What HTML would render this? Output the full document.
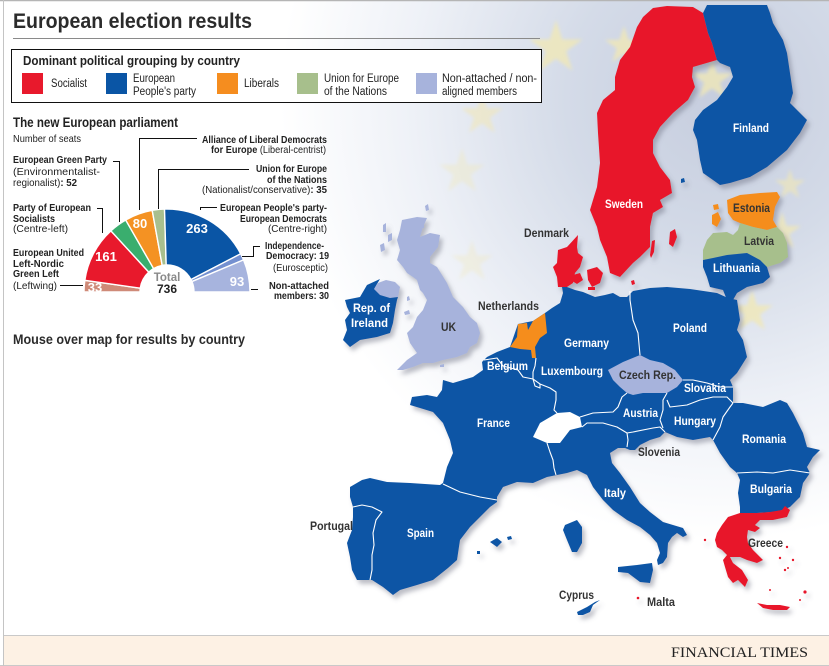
<!DOCTYPE html>
<html><head><meta charset="utf-8"><style>
html,body{margin:0;padding:0;background:#fff;}
svg{display:block;}
text{font-family:"Liberation Sans",sans-serif;}
.b{font-weight:bold;}
.w{fill:#fff;font-weight:bold;font-size:12px;}
.d{fill:#333;font-weight:bold;font-size:12px;}
.a{font-size:10.5px;fill:#222;}
.lg{font-size:11.5px;fill:#222;}
</style></head><body>
<svg width="829" height="666" viewBox="0 0 829 666" xmlns="http://www.w3.org/2000/svg">
<defs>
<radialGradient id="bg" gradientUnits="userSpaceOnUse" cx="720" cy="100" r="440">
<stop offset="0" stop-color="#c6cdde"/>
<stop offset="0.35" stop-color="#d4dbe8"/>
<stop offset="0.7" stop-color="#eef1f7"/>
<stop offset="1" stop-color="#ffffff"/>
</radialGradient>
<filter id="sh" x="-10%" y="-10%" width="130%" height="130%">
<feDropShadow dx="3" dy="4" stdDeviation="2.5" flood-color="#6a7080" flood-opacity="0.45"/>
</filter>
<filter id="bl"><feGaussianBlur stdDeviation="1.5"/></filter>
</defs>
<rect x="0" y="0" width="829" height="666" fill="#fff"/>
<rect x="0" y="0" width="829" height="666" fill="url(#bg)"/>
<!-- stars -->
<g fill="#f2e8b4" filter="url(#bl)">
<path opacity="0.75" transform="translate(556,48) scale(28)" d="M0,-1 L0.2245,-0.309 L0.951,-0.309 L0.363,0.118 L0.588,0.809 L0,0.382 L-0.588,0.809 L-0.363,0.118 L-0.951,-0.309 L-0.2245,-0.309Z"/>
<path opacity="0.75" transform="translate(624,46) scale(20)" d="M0,-1 L0.2245,-0.309 L0.951,-0.309 L0.363,0.118 L0.588,0.809 L0,0.382 L-0.588,0.809 L-0.363,0.118 L-0.951,-0.309 L-0.2245,-0.309Z"/>
<path opacity="0.75" transform="translate(712,80) scale(22)" d="M0,-1 L0.2245,-0.309 L0.951,-0.309 L0.363,0.118 L0.588,0.809 L0,0.382 L-0.588,0.809 L-0.363,0.118 L-0.951,-0.309 L-0.2245,-0.309Z"/>
<path opacity="0.55" transform="translate(482,115) scale(22)" d="M0,-1 L0.2245,-0.309 L0.951,-0.309 L0.363,0.118 L0.588,0.809 L0,0.382 L-0.588,0.809 L-0.363,0.118 L-0.951,-0.309 L-0.2245,-0.309Z"/>
<path opacity="0.35" transform="translate(462,172) scale(24)" d="M0,-1 L0.2245,-0.309 L0.951,-0.309 L0.363,0.118 L0.588,0.809 L0,0.382 L-0.588,0.809 L-0.363,0.118 L-0.951,-0.309 L-0.2245,-0.309Z"/>
<path opacity="0.3" transform="translate(472,262) scale(22)" d="M0,-1 L0.2245,-0.309 L0.951,-0.309 L0.363,0.118 L0.588,0.809 L0,0.382 L-0.588,0.809 L-0.363,0.118 L-0.951,-0.309 L-0.2245,-0.309Z"/>
<path opacity="0.75" transform="translate(752,312) scale(22)" d="M0,-1 L0.2245,-0.309 L0.951,-0.309 L0.363,0.118 L0.588,0.809 L0,0.382 L-0.588,0.809 L-0.363,0.118 L-0.951,-0.309 L-0.2245,-0.309Z"/>
<path opacity="0.7" transform="translate(782,232) scale(20)" d="M0,-1 L0.2245,-0.309 L0.951,-0.309 L0.363,0.118 L0.588,0.809 L0,0.382 L-0.588,0.809 L-0.363,0.118 L-0.951,-0.309 L-0.2245,-0.309Z"/>
<path opacity="0.6" transform="translate(790,185) scale(16)" d="M0,-1 L0.2245,-0.309 L0.951,-0.309 L0.363,0.118 L0.588,0.809 L0,0.382 L-0.588,0.809 L-0.363,0.118 L-0.951,-0.309 L-0.2245,-0.309Z"/>
</g>

<!-- title -->
<text x="13" y="28" class="b" font-size="21" fill="#2b2b2b" textLength="239" lengthAdjust="spacingAndGlyphs">European election results</text>
<line x1="13" y1="38.5" x2="540" y2="38.5" stroke="#8a8a8a" stroke-width="1"/>

<!-- MAP -->
<g filter="url(#sh)">
<!-- continental blue mass -->
<polygon fill="#0a55a5" points="510,347 518,324 533,321 545,313 552,308 560,303 563,293 562,287 567,287 575,290 583,292 595,297 605,295 613,293 620,297 627,297 633,291 650,288 667,287 690,289 717,293 728,298 737,300 740,320 737,330 743,340 747,357 737,373 730,380 733,387 733,403 743,403 763,407 780,400 787,403 793,413 803,433 807,447 820,450 813,457 807,467 810,473 803,483 800,497 790,507 783,510 773,512 757,513 740,513 740,507 738,493 740,480 737,473 730,467 720,453 713,440 710,437 693,440 677,437 665,432 660,437 650,440 640,445 635,450 630,450 625,448 618,448 610,453 612,463 620,473 630,487 640,503 650,512 663,522 673,525 683,528 687,535 683,537 677,533 672,537 668,543 667,557 663,563 658,565 657,560 660,553 657,543 650,535 640,527 627,520 613,510 603,500 593,487 587,475 577,470 567,473 557,475 547,477 533,483 517,482 503,487 497,497 497,502 490,507 480,517 470,527 460,540 457,560 448,568 433,580 417,585 400,590 393,595 383,587 372,580 357,580 352,570 350,557 347,543 352,530 353,517 353,507 350,497 350,487 362,480 370,478 387,482 410,483 440,485 443,483 447,467 453,453 450,440 443,423 433,412 420,408 410,405 412,397 427,395 437,397 442,390 443,380 453,383 463,380 473,377 483,370 482,362 487,357 497,352"/>
<!-- Netherlands -->
<polygon fill="#f58d1f" points="510,347 517,337 518,324 527,323 528,330 533,321 545,313 547,333 540,338 535,347 536,358 532,358 531,350 520,349"/>
<!-- Czech -->
<polygon fill="#a7b3dc" points="608,370 623,362 640,355 650,360 663,363 675,370 683,380 677,387 667,393 657,393 643,393 633,395 627,393 620,387 613,380"/>
<!-- Sardinia, Sicily, Balearics, Cyprus -->
<polygon fill="#0a55a5" points="565,525 577,520 582,527 582,543 577,552 572,552 567,540 563,530"/>
<polygon fill="#0a55a5" points="618,567 637,565 652,563 653,570 650,583 640,582 628,573 618,572"/>
<polygon fill="#0a55a5" points="490,542 497,538 502,542 497,547"/>
<polygon fill="#0a55a5" points="507,537 511,536 512,539 508,540"/>
<polygon fill="#0a55a5" points="477,551 480,551 480,554 477,554"/>
<polygon fill="#0a55a5" points="577,612 587,607 595,602 600,600 593,605 590,612 583,615 578,615"/>
<!-- Greece -->
<polygon fill="#e8192c" points="715,540 717,533 722,525 728,517 740,513 757,513 770,512 782,510 785,506 790,510 787,517 773,520 760,520 755,525 760,528 755,532 748,530 747,537 748,543 753,550 763,560 757,563 747,560 740,557 730,557 733,563 742,570 748,580 745,587 738,580 733,583 728,577 725,567 723,560 727,555 722,550 717,547"/>
<polygon fill="#e8192c" points="757,603 767,605 780,605 790,607 787,610 773,610 763,608"/>
<g fill="#e8192c">
<circle cx="705" cy="540" r="1.2"/><circle cx="787" cy="547" r="1.2"/><circle cx="793" cy="560" r="1.2"/><circle cx="785" cy="570" r="1.2"/><circle cx="780" cy="558" r="1.2"/><circle cx="788" cy="568" r="1"/><circle cx="805" cy="592" r="1.6"/><circle cx="800" cy="600" r="1"/><circle cx="638" cy="598" r="1.3"/><circle cx="770" cy="590" r="1"/>
</g>
<!-- Switzerland (white hole) -->
<polygon fill="#ffffff" points="533,437 540,423 557,413 570,412 580,417 582,427 570,430 560,443 547,443"/>
<!-- UK -->
<polygon fill="#a7b3dc" points="402,220 417,217 427,218 423,227 420,237 430,233 440,235 438,247 430,257 430,263 437,267 447,283 453,297 463,307 470,317 477,323 480,333 477,343 470,347 467,353 457,357 443,360 433,363 423,363 413,367 403,370 397,370 407,360 417,353 410,343 407,333 413,327 417,317 423,310 427,300 423,293 420,290 417,280 413,277 407,273 403,267 397,260 400,250 397,240 400,230"/>
<polygon fill="#a7b3dc" points="378,283 386,280 395,282 400,287 398,297 390,298 380,295 374,289"/>
<g fill="#a7b3dc">
<polygon points="383,225 386,223 386,232 383,232"/><polygon points="388,235 392,233 392,240 388,242"/><polygon points="380,245 384,243 385,250 381,252"/><polygon points="425,206 428,204 429,210 426,211"/><polygon points="420,224 424,223 424,228 420,228"/><polygon points="407,297 409,296 410,300 407,301"/><polygon points="404,312 409,310 410,314 405,315"/><polygon points="440,365 444,364 444,367 440,367"/>
</g>
<!-- Ireland -->
<polygon fill="#0a55a5" points="345,300 360,297 367,285 380,279 374,289 380,295 390,298 398,297 397,300 395,310 393,323 390,333 377,337 360,340 350,347 343,340 347,330 345,320 350,313 347,307"/>
<!-- Denmark -->
<g fill="#e8192c">
<polygon points="578,235 567,247 558,250 557,263 553,267 557,277 558,287 567,287 573,283 575,273 580,267 583,257 578,253 577,247"/>
<polygon points="573,275 580,273 583,280 577,284 572,281"/>
<polygon points="587,270 597,267 603,273 600,283 592,287 588,280"/>
<polygon points="588,287 595,287 595,290 588,290"/>
<polygon points="631,281 634,280 635,284 632,285"/>
</g>
<!-- Sweden -->
<polygon fill="#e8192c" points="653,8 667,6 693,7 703,13 708,33 712,43 717,60 693,67 692,77 695,87 688,100 673,113 660,127 653,140 653,153 660,167 670,180 672,193 660,200 663,207 653,213 650,227 650,247 640,257 633,263 620,277 610,273 607,257 600,240 597,227 590,210 593,200 597,187 600,163 598,133 597,113 603,100 615,90 615,77 620,60 630,47 637,27 643,17"/>
<polygon fill="#e8192c" points="670,232 675,229 677,237 673,247 669,244"/>
<polygon fill="#e8192c" points="652,241 655,240 654,252 651,258 650,255"/>
<!-- Finland -->
<polygon fill="#0a55a5" points="707,5 767,5 770,13 773,23 783,40 787,53 790,73 793,93 790,103 807,120 800,133 787,150 767,167 750,177 730,183 720,185 713,180 703,173 700,160 697,140 693,130 695,120 703,110 717,100 727,87 733,77 730,67 720,63 717,60 712,43 708,33 703,13"/>
<polygon fill="#0a55a5" points="681,179 684,178 685,182 681,183"/>
<!-- Estonia -->
<polygon fill="#f58d1f" points="727,200 740,195 760,193 777,192 780,197 775,207 773,220 777,227 767,230 753,227 740,223 733,220 728,213"/>
<polygon fill="#f58d1f" points="712,215 718,212 721,219 717,227 712,224"/>
<polygon fill="#f58d1f" points="713,205 718,204 719,209 714,210"/>
<!-- Latvia -->
<polygon fill="#a7bf8c" points="707,240 713,233 727,232 733,235 738,230 740,223 753,227 767,230 777,227 783,233 787,243 788,257 780,263 767,267 760,260 747,253 727,255 713,258 703,260 703,250"/>
<!-- Lithuania -->
<polygon fill="#0a55a5" points="703,260 713,258 727,255 747,253 760,260 767,267 770,277 763,283 747,287 737,293 733,300 727,300 723,290 710,287 707,277 703,267"/>
</g>

<!-- internal borders -->
<g fill="none" stroke="#ffffff" stroke-width="1.1" stroke-linejoin="round">
<polyline points="484,360 497,358 503,366 518,370 523,377 533,379"/>
<polyline points="536,358 535,366 533,372 533,379 540,384"/>
<polyline points="533,379 535,386 540,388 540,384"/>
<polyline points="540,384 550,388 556,392 556,400 554,410 557,413"/>
<polyline points="547,443 550,452 553,460 554,468 556,475"/>
<polyline points="580,417 593,413 613,412 618,407 622,397 627,393"/>
<polyline points="582,427 587,423 603,423 617,427 627,433 633,432 653,428 660,427 665,432"/>
<polyline points="667,393 663,400 663,410 660,420 663,428"/>
<polyline points="667,400 670,407 687,405 700,400 713,397 727,397 733,403"/>
<polyline points="733,403 730,407 723,417 720,427 713,440"/>
<polyline points="737,473 757,472 773,473 790,470 810,473"/>
<polyline points="630,291 630,300 633,320 638,333 640,355"/>
<polyline points="683,380 693,380 707,383 720,387 733,387"/>
<polyline points="627,433 628,440 627,447"/>
<polyline points="443,484 460,492 480,497 497,500"/>
<polyline points="353,507 362,505 372,507 382,512 376,520 373,533 374,545 372,555 372,570 370,580"/>
</g>

<!-- map labels -->
<g>
<text class="w" x="564" y="347" textLength="45" lengthAdjust="spacingAndGlyphs">Germany</text>
<text class="w" x="541" y="375" textLength="62" lengthAdjust="spacingAndGlyphs">Luxembourg</text>
<text class="w" x="487" y="370" textLength="41" lengthAdjust="spacingAndGlyphs">Belgium</text>
<text class="w" x="477" y="427" textLength="33" lengthAdjust="spacingAndGlyphs">France</text>
<text class="w" x="623" y="417" textLength="35" lengthAdjust="spacingAndGlyphs">Austria</text>
<text class="w" x="407" y="537" textLength="27" lengthAdjust="spacingAndGlyphs">Spain</text>
<text class="w" x="604" y="497" textLength="22" lengthAdjust="spacingAndGlyphs">Italy</text>
<text class="w" x="673" y="332" textLength="34" lengthAdjust="spacingAndGlyphs">Poland</text>
<text class="w" x="684" y="392" textLength="42" lengthAdjust="spacingAndGlyphs">Slovakia</text>
<text class="w" x="674" y="425" textLength="42" lengthAdjust="spacingAndGlyphs">Hungary</text>
<text class="w" x="742" y="443" textLength="44" lengthAdjust="spacingAndGlyphs">Romania</text>
<text class="w" x="750" y="493" textLength="42" lengthAdjust="spacingAndGlyphs">Bulgaria</text>
<text class="w" x="605" y="208" textLength="38" lengthAdjust="spacingAndGlyphs">Sweden</text>
<text class="w" x="733" y="132" textLength="36" lengthAdjust="spacingAndGlyphs">Finland</text>
<text class="w" x="713" y="272" textLength="47" lengthAdjust="spacingAndGlyphs">Lithuania</text>
<text class="w" x="353" y="312" textLength="37" lengthAdjust="spacingAndGlyphs">Rep. of</text>
<text class="w" x="351" y="327" textLength="37" lengthAdjust="spacingAndGlyphs">Ireland</text>
<text class="d" x="733" y="212" textLength="37" lengthAdjust="spacingAndGlyphs">Estonia</text>
<text class="d" x="744" y="245" textLength="30" lengthAdjust="spacingAndGlyphs">Latvia</text>
<text class="d" x="619" y="379" textLength="57" lengthAdjust="spacingAndGlyphs">Czech Rep.</text>
<text class="d" x="638" y="456" textLength="42" lengthAdjust="spacingAndGlyphs">Slovenia</text>
<text class="d" x="748" y="547" textLength="35" lengthAdjust="spacingAndGlyphs">Greece</text>
<text class="d" x="647" y="606" textLength="28" lengthAdjust="spacingAndGlyphs">Malta</text>
<text class="d" x="524" y="237" textLength="45" lengthAdjust="spacingAndGlyphs">Denmark</text>
<text class="d" x="478" y="310" textLength="61" lengthAdjust="spacingAndGlyphs">Netherlands</text>
<text class="d" x="441" y="331" textLength="15" lengthAdjust="spacingAndGlyphs">UK</text>
<text class="d" x="310" y="530" textLength="43" lengthAdjust="spacingAndGlyphs">Portugal</text>
<text class="d" x="559" y="599" textLength="35" lengthAdjust="spacingAndGlyphs">Cyprus</text>
</g>

<!-- legend box -->
<rect x="11.5" y="49.5" width="530" height="53" fill="#ffffff" stroke="#111" stroke-width="1"/>
<text x="23" y="65" class="b" font-size="13" fill="#222" textLength="217" lengthAdjust="spacingAndGlyphs">Dominant political grouping by country</text>
<rect x="22" y="73" width="21" height="21" fill="#e8192c"/>
<text class="lg" x="51" y="87" textLength="36" lengthAdjust="spacingAndGlyphs">Socialist</text>
<rect x="106" y="73" width="21" height="21" fill="#0a55a5"/>
<text class="lg" x="133" y="82" textLength="42" lengthAdjust="spacingAndGlyphs">European</text>
<text class="lg" x="133" y="95" textLength="63" lengthAdjust="spacingAndGlyphs">People's party</text>
<rect x="217" y="73" width="21" height="21" fill="#f58d1f"/>
<text class="lg" x="244" y="87" textLength="35" lengthAdjust="spacingAndGlyphs">Liberals</text>
<rect x="297" y="73" width="21" height="21" fill="#a7bf8c"/>
<text class="lg" x="324" y="82" textLength="75" lengthAdjust="spacingAndGlyphs">Union for Europe</text>
<text class="lg" x="324" y="95" textLength="63" lengthAdjust="spacingAndGlyphs">of the Nations</text>
<rect x="416" y="73" width="21" height="21" fill="#a7b3dc"/>
<text class="lg" x="442" y="82" textLength="95" lengthAdjust="spacingAndGlyphs">Non-attached / non-</text>
<text class="lg" x="442" y="95" textLength="75" lengthAdjust="spacingAndGlyphs">aligned members</text>

<!-- parliament chart -->
<text x="13" y="127" class="b" font-size="13.5" fill="#222" textLength="165" lengthAdjust="spacingAndGlyphs">The new European parliament</text>
<text x="13" y="142" class="a" textLength="68" lengthAdjust="spacingAndGlyphs">Number of seats</text>

<g stroke="#ffffff" stroke-width="1.4">
<path fill="#cf8a78" d="M84,292 A83,83 0 0 1 84.82,280.35 L140.27,288.21 A27,27 0 0 0 140,292 Z"/>
<path fill="#e8192c" d="M84.82,280.35 A83,83 0 0 1 110.89,230.84 L148.75,272.10 A27,27 0 0 0 140.27,288.21 Z"/>
<path fill="#3aae6e" d="M110.89,230.84 A83,83 0 0 1 125.71,220.00 L153.57,268.58 A27,27 0 0 0 148.75,272.10 Z"/>
<path fill="#f49223" d="M125.71,220.00 A83,83 0 0 1 152.20,210.33 L162.18,265.43 A27,27 0 0 0 153.57,268.58 Z"/>
<path fill="#a8bf8e" d="M152.20,210.33 A83,83 0 0 1 164.52,209.04 L166.19,265.01 A27,27 0 0 0 162.18,265.43 Z"/>
<path fill="#0a55a5" d="M164.52,209.04 A83,83 0 0 1 240.69,253.81 L190.97,279.58 A27,27 0 0 0 166.19,265.01 Z"/>
<path fill="#7490d0" d="M240.69,253.81 A83,83 0 0 1 243.55,259.91 L191.90,281.56 A27,27 0 0 0 190.97,279.58 Z"/>
<path fill="#a7b4de" d="M243.55,259.91 A83,83 0 0 1 250,292 L194,292 A27,27 0 0 0 191.90,281.56 Z"/>
</g>
<g class="b" font-size="13" fill="#fff" text-anchor="middle">
<text x="95" y="292">33</text>
<text x="106" y="261">161</text>
<text x="140" y="228">80</text>
<text x="197" y="233">263</text>
<text x="237" y="286">93</text>
</g>
<text x="167" y="281" class="b" font-size="11.5" fill="#8a8a8a" text-anchor="middle">Total</text>
<text x="167" y="293" class="b" font-size="12" fill="#222" text-anchor="middle">736</text>

<!-- leader lines -->
<g fill="none" stroke="#111" stroke-width="1">
<polyline points="139.5,210 139.5,138.5 197,138.5"/>
<polyline points="158.5,209 158.5,169.5 249,169.5"/>
<polyline points="113,161.5 119.5,161.5 119.5,222"/>
<polyline points="97,208.5 102.5,208.5 102.5,233"/>
<polyline points="60,285.5 83,285.5"/>
<polyline points="200.5,210 200.5,207.5 217,207.5"/>
<polyline points="242,256.5 253.5,256.5 253.5,246.5 260,246.5"/>
<polyline points="251,289.5 258,289.5"/>
</g>

<!-- annotations -->
<g class="a">
<text x="202" y="143" class="b" textLength="125" lengthAdjust="spacingAndGlyphs">Alliance of Liberal Democrats</text>
<text x="211" y="153" textLength="115" lengthAdjust="spacingAndGlyphs"><tspan font-weight="bold">for Europe </tspan>(Liberal-centrist)</text>
<text x="256" y="172" class="b" textLength="71" lengthAdjust="spacingAndGlyphs">Union for Europe</text>
<text x="267" y="183" class="b" textLength="60" lengthAdjust="spacingAndGlyphs">of the Nations</text>
<text x="202" y="193" textLength="125" lengthAdjust="spacingAndGlyphs">(Nationalist/conservative)<tspan font-weight="bold">: 35</tspan></text>
<text x="13" y="163" class="b" textLength="94" lengthAdjust="spacingAndGlyphs">European Green Party</text>
<text x="13" y="175" textLength="87" lengthAdjust="spacingAndGlyphs">(Environmentalist-</text>
<text x="13" y="186" textLength="64" lengthAdjust="spacingAndGlyphs">regionalist)<tspan font-weight="bold">: 52</tspan></text>
<text x="13" y="211" class="b" textLength="78" lengthAdjust="spacingAndGlyphs">Party of European</text>
<text x="13" y="222" class="b" textLength="42" lengthAdjust="spacingAndGlyphs">Socialists</text>
<text x="13" y="232" textLength="55" lengthAdjust="spacingAndGlyphs">(Centre-left)</text>
<text x="13" y="256" class="b" textLength="71" lengthAdjust="spacingAndGlyphs">European United</text>
<text x="13" y="267" class="b" textLength="51" lengthAdjust="spacingAndGlyphs">Left-Nordic</text>
<text x="13" y="277" class="b" textLength="46" lengthAdjust="spacingAndGlyphs">Green Left</text>
<text x="13" y="289" textLength="44" lengthAdjust="spacingAndGlyphs">(Leftwing)</text>
<text x="220" y="211" class="b" textLength="107" lengthAdjust="spacingAndGlyphs">European People's party-</text>
<text x="240" y="222" class="b" textLength="87" lengthAdjust="spacingAndGlyphs">European Democrats</text>
<text x="268" y="232" textLength="59" lengthAdjust="spacingAndGlyphs">(Centre-right)</text>
<text x="265" y="249" class="b" textLength="59" lengthAdjust="spacingAndGlyphs">Independence-</text>
<text x="266" y="259" class="b" textLength="63" lengthAdjust="spacingAndGlyphs">Democracy: 19</text>
<text x="273" y="271" textLength="55" lengthAdjust="spacingAndGlyphs">(Eurosceptic)</text>
<text x="269" y="289" class="b" textLength="60" lengthAdjust="spacingAndGlyphs">Non-attached</text>
<text x="274" y="299" class="b" textLength="55" lengthAdjust="spacingAndGlyphs">members: 30</text>
</g>

<text x="13" y="344" class="b" font-size="13.5" fill="#2b2b2b" textLength="232" lengthAdjust="spacingAndGlyphs">Mouse over map for results by country</text>

<!-- footer -->
<rect x="4" y="635" width="825" height="30" fill="#fdf1e4"/>
<line x1="4" y1="635.5" x2="829" y2="635.5" stroke="#c9c9c9" stroke-width="1"/>
<line x1="0" y1="665.5" x2="829" y2="665.5" stroke="#c9c9c9" stroke-width="1"/>
<text x="671" y="657" font-size="15" fill="#222" textLength="137" lengthAdjust="spacingAndGlyphs" style="font-family:'Liberation Serif',serif">FINANCIAL TIMES</text>

<!-- frame -->
<line x1="0" y1="0.5" x2="829" y2="0.5" stroke="#b5b5b5" stroke-width="1.5"/>
<line x1="3.5" y1="0" x2="3.5" y2="666" stroke="#c4c4c4" stroke-width="1"/>
</svg>
</body></html>
